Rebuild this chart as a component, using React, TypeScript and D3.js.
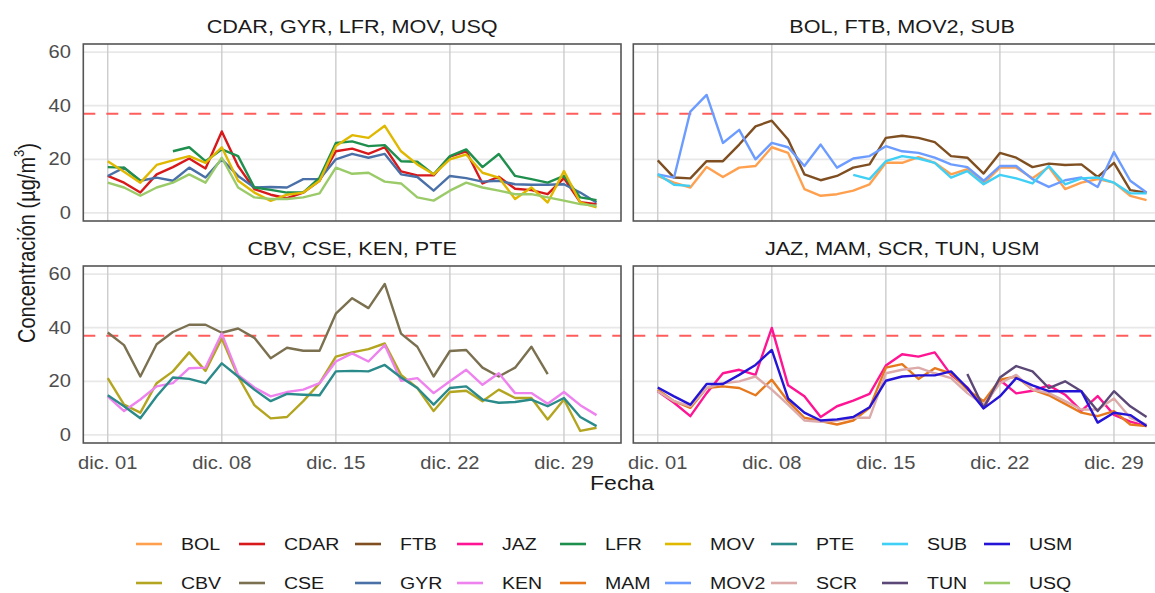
import * as d3 from 'd3';
import React from 'react';

type Val = number | null;

// fechas: 1 a 31 de diciembre
const days: Date[] = d3.range(1, 32).map((d) => new Date(2023, 11, d));
const tickDays: Date[] = [1, 8, 15, 22, 29].map((d) => new Date(2023, 11, d));
const yTicks = [0, 20, 40, 60];
const limite = 37;

// series
const BOL: Val[] = [13.8, 11.3, 9.5, 17.1, 13.4, 16.9, 17.5, 24.5, 22.4, 8.9, 6.4, 7, 8.3, 10.7, 18.7, 18.7, 20.8, 18.7, 14.4, 16.3, 11, 16.9, 16.9, 12.9, 17.1, 8.9, 11.3, 12.6, 11.3, 6.4, 4.8];
const CBV: Val[] = [21.2, 11.3, 8.3, 19.3, 23.7, 30.8, 23.9, 36, 21.8, 11.1, 6.2, 6.7, 12.6, 19.3, 29.2, 30.8, 32, 34.1, 22.4, 17.5, 8.9, 16, 16.5, 12.6, 16.9, 13.8, 13.8, 5.8, 13.2, 1.5, 2.7];
const CDAR: Val[] = [13.8, 11.3, 7.6, 14.4, 17.1, 20.3, 16.6, 30.4, 17.5, 8.9, 6.8, 5.5, 7.6, 12, 23, 24, 22, 24.5, 15.5, 14, 14, 21, 23, 11, 13.5, 9, 8.5, 7, 13, 4, 3.3];
const CSE: Val[] = [38.2, 33.5, 21.8, 33.8, 38.4, 41.1, 41.1, 38.1, 39.7, 36.2, 28.6, 32.5, 31.4, 31.4, 45.2, 51, 47.3, 56.3, 37.8, 32.9, 21.8, 31.3, 31.7, 25.1, 21.8, 25.1, 32.9, 22.7, null, null, null];
const FTB: Val[] = [19.6, 13.2, 12.9, 19.3, 19.3, 25.5, 32.3, 34.4, 27.4, 14.4, 12.2, 13.8, 16.9, 18.1, 28, 28.8, 28, 26.4, 21.2, 20.6, 14.7, 22.4, 20.6, 17.1, 18.4, 17.9, 18.1, 13.4, 18.7, 8.5, 7.6];
const GYR: Val[] = [13.8, 16.9, 12, 13.2, 12, 16.9, 13.2, 20, 13.8, 9.5, 9.7, 9.5, 12.6, 12.6, 20, 22, 20.6, 22, 14.4, 13.4, 8.3, 13.8, 13, 11.7, 12, 10.7, 10.5, 10.5, 10.7, 7.6, 3.9];
const JAZ: Val[] = [16.3, 12, 7, 15.6, 23, 24.3, 22.4, 39.9, 18.5, 14.4, 6.7, 10.7, 12.8, 15.3, 25.9, 30.1, 29.2, 30.8, 22.4, 17.7, 10.1, 20.5, 15.5, 16.5, 18.5, 15, 9, 14.5, 7.5, 5, 3.3];
const KEN: Val[] = [14.4, 8.9, 13.2, 18.1, 19.3, 24.9, 25.1, 37.8, 22.4, 17.7, 14.4, 16, 16.9, 19.3, 27.4, 30.4, 27.4, 33.5, 20.2, 21.2, 15.6, 20, 24.3, 18.7, 23, 15.6, 15.6, 11.6, 16, 11.1, 7.4];
const LFR: Val[] = [17.1, 16.9, 12, null, 23, 24.5, 19.3, 23.7, 21.2, 9.5, 8.6, 7.6, 7.6, 13.2, 26.1, 26.7, 24.9, 25.3, 19.3, 19.1, 14.4, 21.2, 23.7, 17.1, 22, 13.8, 12.6, 11.3, 13.8, 5.8, 4.8];
const MAM: Val[] = [16.9, 12.6, 10.1, 17.5, 18.1, 17.5, 14.8, 20.6, 12.6, 6.4, 5.2, 3.9, 5.4, 10.1, 25.1, 26.4, 20.9, 24.9, 23, 16.9, 12.6, 20.6, 21.8, 16.9, 14.8, 11.6, 8.3, 7, 8.9, 3.9, 3.3];
const MOV: Val[] = [19.3, 15.4, 11.3, 17.9, 19.6, 21.2, 18.7, 24.5, 12, 7.6, 4.5, 6.8, 7.6, 12, 25, 29, 28, 32.5, 23, 18.1, 14.4, 20, 21.8, 15, 13.2, 5.2, 9.5, 3.9, 15.6, 3.9, 2.1];
const MOV2: Val[] = [14.4, 13.2, 37.8, 44, 26.1, 31, 20, 26.1, 24.5, 17.5, 25.5, 16.9, 20.3, 21.2, 24.9, 23, 22.4, 20.6, 18.1, 17.1, 12, 17.5, 17.5, 12.6, 9.7, 12.2, 13.2, 9.7, 22.7, 12, 7.6];
const PTE: Val[] = [14.8, 10.7, 6.2, 14.4, 21.4, 20.9, 19.3, 26.7, 21.8, 16.9, 12.6, 15.3, 15, 14.8, 23.7, 23.9, 23.7, 26.1, 21.4, 17.5, 11.3, 17.5, 18.1, 13.2, 12, 12.3, 13.2, 10.7, 13.8, 6.7, 3.3];
const SCR: Val[] = [16.3, 12.6, 10.7, 17.5, 19.3, 20, 21.8, 16.9, 11.3, 5.4, 4.9, 5.4, 6.4, 6.4, 23, 24.3, 25.1, 23, 21.2, 15.6, 11.3, 19.3, 22.4, 16.9, 15.6, 12.6, 9.5, 9.5, 13.6, 6.4, 3.9];
const SUB: Val[] = [14.4, 10.5, 10.1, null, null, null, null, null, null, null, null, null, 14.2, 12.6, 19.3, 21.2, 20.3, 18.7, 13.2, 15.6, 10.7, 14.2, 12.9, 11, 17.5, 10.7, 12.9, 13.2, 11.3, 7.3, 7.3];
const TUN: Val[] = [null, null, null, null, null, null, null, null, null, null, null, null, null, null, null, null, null, null, null, 22.7, 10.1, 21.4, 25.7, 23.7, 17.5, 20, 16.3, 8.9, 16.3, 10.7, 6.7];
const USM: Val[] = [17.7, 14.4, 11.3, 19, 19, 22.4, 26.1, 31.7, 13.6, 8.3, 5.4, 5.8, 6.7, 10.3, 20.2, 21.8, 22.2, 22.2, 23.7, 17.5, 9.9, 14.4, 21.2, 18.5, 16.3, 16.3, 16.3, 4.6, 8.3, 7.4, 3.3];
const USQ: Val[] = [11.3, 9.5, 6.4, 9.5, 11.3, 14.4, 11.3, 20.6, 9.5, 5.8, 5.2, 5.2, 5.8, 7.3, 16.9, 14.6, 15, 11.7, 11, 5.8, 4.6, 8.3, 11.3, 9.5, 8.3, 7, 7, 5.8, 4.6, 3.3, 2.7];

const series: Record<string, Val[]> = { BOL, CBV, CDAR, CSE, FTB, GYR, JAZ, KEN, LFR, MAM, MOV, MOV2, PTE, SCR, SUB, TUN, USM, USQ };

const stations = ['BOL', 'CBV', 'CDAR', 'CSE', 'FTB', 'GYR', 'JAZ', 'KEN', 'LFR', 'MAM', 'MOV', 'MOV2', 'PTE', 'SCR', 'SUB', 'TUN', 'USM', 'USQ'];
const colors = ['#ffa04f', '#b4a520', '#d7191c', '#7b7150', '#7f4f21', '#4a70a8', '#ff1493', '#ee82ee', '#1f8f4e', '#e6791e', '#e0b800', '#6c9cff', '#2b8a8a', '#ddaaaa', '#40cff5', '#5c4876', '#2414d6', '#9acb68'];

const panelGroups = [
  ['CDAR', 'GYR', 'LFR', 'MOV', 'USQ'],
  ['BOL', 'FTB', 'MOV2', 'SUB'],
  ['CBV', 'CSE', 'KEN', 'PTE'],
  ['JAZ', 'MAM', 'SCR', 'TUN', 'USM'],
];

const width = 1155;
const height = 593;
const panelW = 537.7;
const panelH = 177;
const colX = [83.3, 633.3];
const rowY = [44, 266];
const legendColX = [136, 239, 355, 457, 560, 665, 771, 882, 984];
const legendRowY = [544, 583];
const sx = 1.15; // estiramiento horizontal del texto
const font = '"Liberation Sans", Arial, sans-serif';

const esLocale = d3.timeFormatLocale({
  dateTime: '%x, %X',
  date: '%d/%m/%Y',
  time: '%H:%M:%S',
  periods: ['AM', 'PM'],
  days: ['domingo', 'lunes', 'martes', 'miércoles', 'jueves', 'viernes', 'sábado'],
  shortDays: ['dom', 'lun', 'mar', 'mié', 'jue', 'vie', 'sáb'],
  months: ['enero', 'febrero', 'marzo', 'abril', 'mayo', 'junio', 'julio', 'agosto', 'septiembre', 'octubre', 'noviembre', 'diciembre'],
  shortMonths: ['ene.', 'feb.', 'mar.', 'abr.', 'may.', 'jun.', 'jul.', 'ago.', 'sept.', 'oct.', 'nov.', 'dic.'],
});
const fmt = esLocale.format('%b %d');

const SText: React.FC<{ x: number; y: number; size: number; anchor?: string; fill?: string; rotate?: number; children: React.ReactNode }> = ({ x, y, size, anchor = 'middle', fill = '#1a1a1a', rotate, children }) => (
  <g transform={`translate(${x},${y}) scale(${sx},1)${rotate ? ` rotate(${rotate})` : ''}`}>
    <text fontSize={size} textAnchor={anchor as any} fill={fill} dominantBaseline="central" fontFamily={font}>
      {children}
    </text>
  </g>
);

const App: React.FC = () => {
  const colorOf = d3.scaleOrdinal<string, string>().domain(stations).range(colors);
  const t0 = d3.timeHour.offset(days[0], -36);
  const t1 = d3.timeHour.offset(days[days.length - 1], 36);

  return (
    <div style={{ position: 'absolute', left: 0, top: 0 }}>
      <svg width={width} height={height} style={{ display: 'block', background: '#fff' }}>
        {panelGroups.map((group, pi) => {
          const x0 = colX[pi % 2];
          const y0 = rowY[Math.floor(pi / 2)];
          const x = d3.scaleTime().domain([t0, t1]).range([x0, x0 + panelW]);
          const y = d3.scaleLinear().domain([-3, 63]).range([y0 + panelH, y0]);
          const line = d3
            .line<Val>()
            .defined((d) => d != null)
            .x((d, i) => x(days[i]))
            .y((d) => y(d as number));
          return (
            <g key={pi}>
              <defs>
                <clipPath id={`clip${pi}`}>
                  <rect x={x0} y={y0} width={panelW} height={panelH} />
                </clipPath>
              </defs>
              <rect x={x0} y={y0} width={panelW} height={panelH} fill="#fff" />
              <g clipPath={`url(#clip${pi})`}>
                {yTicks.map((t) => (
                  <line key={t} x1={x0} x2={x0 + panelW} y1={y(t)} y2={y(t)} stroke="#e8e8e8" strokeWidth={1.8} />
                ))}
                {tickDays.map((d, i) => (
                  <line key={i} x1={x(d)} x2={x(d)} y1={y0} y2={y0 + panelH} stroke="#cccccc" strokeWidth={1.4} />
                ))}
                <line x1={x0} x2={x0 + panelW} y1={y(limite)} y2={y(limite)} stroke="#ff5c5c" strokeWidth={2.2} strokeDasharray="12 11" />
                {group.map((s) => (
                  <path key={s} d={line(series[s]) ?? ''} fill="none" stroke={colorOf(s)} strokeWidth={2.4} strokeLinejoin="round" />
                ))}
              </g>
              <rect x={x0} y={y0} width={panelW} height={panelH} fill="none" stroke="#555" strokeWidth={1.6} />
              <SText x={x0 + panelW / 2} y={y0 - 17} size={18.8}>
                {group.join(', ')}
              </SText>
              {pi % 2 === 0 &&
                yTicks.map((t) => (
                  <SText key={t} x={71} y={y(t)} size={17.5} anchor="end" fill="#4d4d4d">
                    {t}
                  </SText>
                ))}
              {pi >= 2 &&
                tickDays.map((d, i) => (
                  <SText key={i} x={x(d)} y={463} size={17.5} fill="#4d4d4d">
                    {fmt(d)}
                  </SText>
                ))}
            </g>
          );
        })}
        <SText x={622} y={483} size={20}>
          Fecha
        </SText>
        <SText x={27} y={243} size={20} rotate={-90}>
          Concentración (µg/m<tspan dy={-7} fontSize={13}>3</tspan>
          <tspan dy={7}>)</tspan>
        </SText>
        {stations.map((s, i) => {
          const cx = legendColX[Math.floor(i / 2)];
          const cy = legendRowY[i % 2];
          return (
            <g key={s}>
              <line x1={cx} x2={cx + 26} y1={cy} y2={cy} stroke={colorOf(s)} strokeWidth={2.6} />
              <SText x={cx + 45} y={cy} size={17} anchor="start" fill="#1a1a1a">
                {s}
              </SText>
            </g>
          );
        })}
      </svg>
    </div>
  );
};

export default App;
